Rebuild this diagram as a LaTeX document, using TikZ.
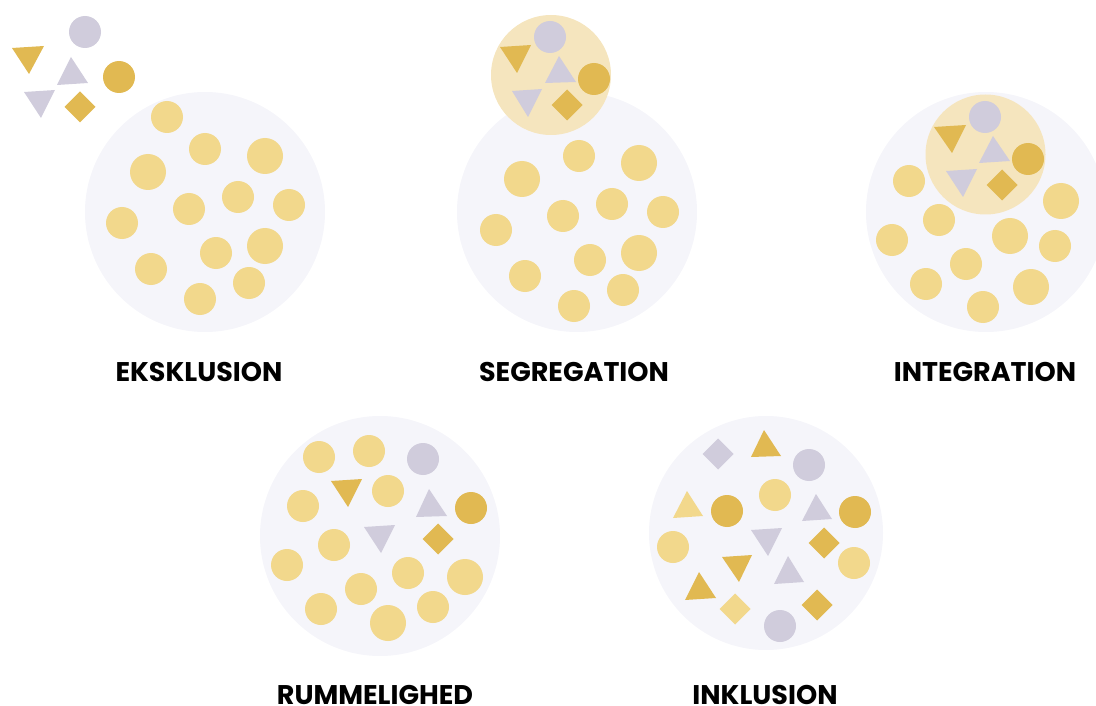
\documentclass[tikz,border=0pt]{standalone}
\usepackage{fontspec}
\setmainfont{Poppins}
\definecolor{plate}{HTML}{F5F5FA}
\definecolor{sand}{HTML}{F2D88C}
\definecolor{gold}{HTML}{E1B952}
\definecolor{lilac}{HTML}{D0CCDC}
\definecolor{halo}{HTML}{F5E5BE}
\begin{document}
\begin{tikzpicture}[x=1pt,y=-1pt,
    title/.style={font=\bfseries\fontsize{27}{30}\selectfont,anchor=base,inner sep=0pt}]
  \clip (0,0) rectangle (1096,706);

  % plates
  \foreach \x/\y/\r in {205/212/120,577/212/120,986/212/120,380/536/120,766/533/117}
    \fill[plate] (\x,\y) circle (\r);
  % the minority groups
  \foreach \x/\y in {551/75,985.5/154.5}
    \fill[halo] (\x,\y) circle (60);

  % majority dots
  \foreach \x/\y/\r in {167/117/16,205/149/16,265/156/18,148/172/18,189/209/16,238/197/16,
      289/205/16,122/223/16,216/253/16,265/246/18,151/269/16,249/283/16,200/299/16,
      579/156/16,639/163/18,522/179/18,563/216/16,612/204/16,663/212/16,496/230/16,
      590/260/16,639/253/18,525/276/16,623/290/16,574/306/16,
      909/181/16,1061/201/18,939/220/16,892/240/16,1010/236/18,1055/246/16,966/264/16,
      926/284/16,1031/287/18,983/307/16,
      319/457/16,369/451/16,388/491/16,303/506/16,334/545/16,287/565/16,408/573/16,
      465/577/18,361/589/16,321/609/16,433/607/16,388/623/18,
      775/495/16,673/547/16,854/563/16}
    \fill[sand] (\x,\y) circle (\r);

  % round minorities
  \foreach \x/\y/\c in {85/32/lilac,119/77/gold,550/37/lilac,594/79/gold,
      985/117/lilac,1028/159/gold,423/459/lilac,471/508/gold,
      809/465/lilac,727/511/gold,855/512/gold,780/626/lilac}
    \fill[\c] (\x,\y) circle (16);

  % triangles
  \foreach \ax/\ay/\bx/\by/\cx/\cy/\c in {
      12/48/44/46/29/74/gold,71/57/88/83/57/85/lilac,24/92/55/90/41/118/lilac,
      500/47/531/45/517/73/gold,559/56/576/82/545/83/lilac,512/91/542/89/528/117/lilac,
      934/127/966/125/952/153/gold,993/136/1010/161/979/163/lilac,946/171/977/169/963/197/lilac,
      331/481/362/479/348/507/gold,429/489/447/516/416/517/lilac,364/527/395/525/381/553/lilac,
      764/430/781/456/751/457/gold,687/491/703/516/673/518/sand,816/494/832/519/802/521/lilac,
      751/530/782/528/768/556/lilac,722/557/752/555/739/582/gold,788/556/804/582/774/584/lilac,
      699/572/716/598/685/600/gold}
    \fill[\c] (\ax,\ay) -- (\bx,\by) -- (\cx,\cy) -- cycle;

  % diamonds
  \foreach \x/\y/\c in {80/107/gold,567/105/gold,1002/185/gold,438/539/gold,
      718/454/lilac,824/543/gold,735/609/sand,817/605/gold}
    \fill[\c] (\x,\y-15.5) -- (\x+15.5,\y) -- (\x,\y+15.5) -- (\x-15.5,\y) -- cycle;

  % captions
  \node[title] (ekskl) at (199,381) {EKSKLUSION};
  \node[title] (segr)  at (574,381) {SEGREGATION};
  \node[title] (integ) at (985,381) {INTEGRATION};
  \node[title] (rumm)  at (375,704) {RUMMELIGHED};
  \node[title] (inkl)  at (765,704) {INKLUSION};
\end{tikzpicture}
\end{document}
